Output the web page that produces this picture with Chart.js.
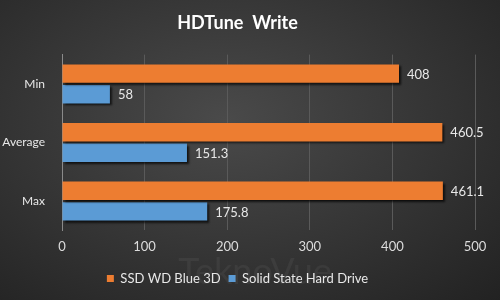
<!DOCTYPE html>
<html>
<head>
<meta charset="utf-8">
<script src="https://cdn.jsdelivr.net/npm/chart.js@4"></script>
<style>
  html, body { margin: 0; padding: 0; }
  body {
    width: 500px; height: 300px; overflow: hidden;
    background: radial-gradient(ellipse at 45% 40%, #4a4a4a 0%, #383838 45%, #222222 100%);
  }
  #wrap { width: 500px; height: 300px; }
</style>
</head>
<body>
<div id="wrap"><canvas id="myChart" width="500" height="300"></canvas></div>
<script>
const categories = ["Min", "Average", "Max"];
const wdBlue = [408, 460.5, 461.1];
const solidState = [58, 151.3, 175.8];
const seriesNames = ["SSD WD Blue 3D", "Solid State Hard Drive"];
const xTicks = [0, 100, 200, 300, 400, 500];

const fontFamily = "Lato, 'Open Sans', sans-serif";

// faint watermark + bar shadows + value labels
const extras = {
  id: "extras",
  beforeDatasetsDraw(chart) {
    const ctx = chart.ctx;
    ctx.save();
    ctx.font = "36px " + fontFamily;
    ctx.fillStyle = "rgba(255,255,255,0.05)";
    ctx.textAlign = "center";
    ctx.fillText("TeknoVue", 255, 272);
    ctx.restore();
    ctx.save();
    ctx.shadowColor = "rgba(0,0,0,0.7)";
    ctx.shadowOffsetX = 2;
    ctx.shadowOffsetY = 2;
    ctx.shadowBlur = 2;
  },
  afterDatasetsDraw(chart) {
    const ctx = chart.ctx;
    ctx.restore();
    ctx.save();
    ctx.font = "13px " + fontFamily;
    ctx.fillStyle = "#e8e8e8";
    ctx.textBaseline = "middle";
    chart.data.datasets.forEach((ds, i) => {
      chart.getDatasetMeta(i).data.forEach((bar, j) => {
        ctx.fillText(String(ds.data[j]), bar.x + 8, bar.y + 1);
      });
    });
    ctx.restore();
  }
};

var ctx = document.getElementById("myChart").getContext("2d");
var chart = new Chart(ctx, {
  type: "bar",
  data: {
    labels: categories,
    datasets: [
      {
        label: seriesNames[0],
        data: wdBlue,
        backgroundColor: "#ed7d31",
        categoryPercentage: 0.7,
        barPercentage: 0.9
      },
      {
        label: seriesNames[1],
        data: solidState,
        backgroundColor: "#5b9bd5",
        categoryPercentage: 0.7,
        barPercentage: 0.9
      }
    ]
  },
  options: {
    indexAxis: "y",
    responsive: false,
    animation: false,
    layout: { padding: { left: 0, right: 25, top: 10, bottom: 5 } },
    plugins: {
      title: {
        display: true,
        text: "HDTune  Write",
        color: "#ffffff",
        font: { family: fontFamily, size: 18, weight: "bold" },
        padding: { top: 2, bottom: 21 }
      },
      legend: {
        position: "bottom",
        labels: {
          color: "#e8e8e8",
          font: { family: fontFamily, size: 13 },
          boxWidth: 7,
          boxHeight: 7,
          padding: 8
        }
      },
      tooltip: { enabled: false }
    },
    scales: {
      x: {
        min: 0,
        max: 500,
        afterBuildTicks(axis) { axis.ticks = xTicks.map(v => ({ value: v })); },
        grid: { color: "#5a5a5a", drawTicks: false },
        border: { display: false },
        ticks: { color: "#dcdcdc", font: { family: fontFamily, size: 13 }, padding: 9 }
      },
      y: {
        afterFit(axis) { axis.width = 62; },
        grid: { display: false },
        border: { display: true, color: "#8a8a8a", width: 1 },
        ticks: { color: "#e8e8e8", font: { family: fontFamily, size: 12 }, padding: 9 }
      }
    }
  },
  plugins: [extras]
});
</script>
</body>
</html>
